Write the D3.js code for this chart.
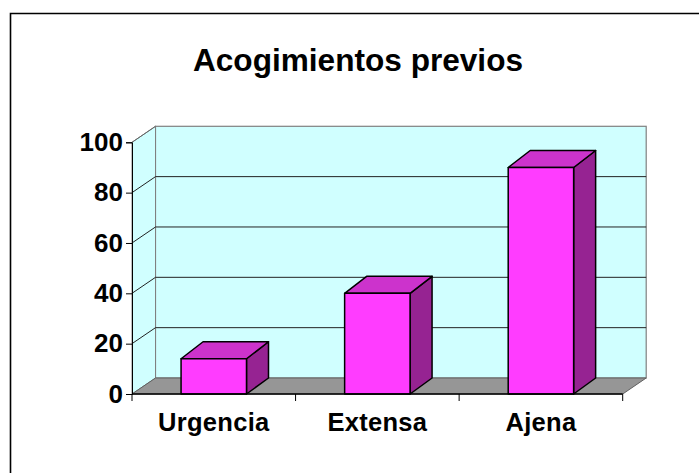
<!DOCTYPE html>
<html><head><meta charset="utf-8">
<script src="https://cdn.jsdelivr.net/npm/d3@7"></script>
<style>html,body{margin:0;padding:0;background:#fff}svg{display:block}text{font-family:"Liberation Sans",Arial,sans-serif;font-weight:bold;fill:#000}</style>
</head><body><svg id="c" width="699" height="473"></svg>
<script>
const categories = ["Urgencia", "Extensa", "Ajena"];
const values = [14, 40, 90];
const yTicks = [0, 20, 40, 60, 80, 100];
const title = "Acogimientos previos";

const svg = d3.select("#c");
const dx = 23.5, dy = -16;
const x = d3.scaleBand().domain(categories).range([132, 622.7]).paddingInner(0.6).paddingOuter(0.3);
const y = d3.scaleLinear().domain([0, 100]).range([394, 142.3]);
const pts = a => a.map(p => p.join(",")).join(" ");
const x0 = x.range()[0], x1 = x.range()[1], y0 = y(0), yT = y(100);

svg.append("path").attr("d", "M10.5,473V13.5H699").attr("fill", "none").attr("stroke", "#000").attr("stroke-width", 1.6);

svg.append("text").attr("x", 358).attr("y", 71).attr("text-anchor", "middle").attr("font-size", 31.6).text(title);

// walls
svg.append("rect").attr("x", x0 + dx).attr("y", yT + dy).attr("width", x1 - x0).attr("height", y0 - yT)
  .attr("fill", "#d0ffff").attr("stroke", "#808080").attr("stroke-width", 1.2);
svg.append("polygon").attr("points", pts([[x0, yT], [x0 + dx, yT + dy], [x0 + dx, y0 + dy], [x0, y0]]))
  .attr("fill", "#d0ffff").attr("stroke", "#808080").attr("stroke-width", 1);
svg.append("polygon").attr("points", pts([[x0, y0], [x0 + dx, y0 + dy], [x1 + dx, y0 + dy], [x1, y0]]))
  .attr("fill", "#969696").attr("stroke", "#606060").attr("stroke-width", 1);

// gridlines
const grid = svg.append("g").attr("stroke", "#222").attr("stroke-width", 1).attr("fill", "none");
yTicks.filter(t => t > 0 && t < 100).forEach(t => {
  grid.append("polyline").attr("points", pts([[x0, y(t)], [x0 + dx, y(t) + dy], [x1 + dx, y(t) + dy]]));
});
svg.append("line").attr("x1", x0).attr("y1", yT).attr("x2", x0 + dx).attr("y2", yT + dy).attr("stroke", "#666");

// bars
const bars = svg.append("g").attr("stroke", "#000").attr("stroke-width", 1.5).attr("stroke-linejoin", "round");
categories.forEach((c, i) => {
  const l = x(c), r = l + x.bandwidth(), t = y(values[i]);
  const bdx = 22, bdy = -17;
  bars.append("polygon").attr("points", pts([[r, t], [r + bdx, t + bdy], [r + bdx, y0 + dy], [r, y0]])).attr("fill", "#962392");
  bars.append("polygon").attr("points", pts([[l, t], [l + bdx, t + bdy], [r + bdx, t + bdy], [r, t]])).attr("fill", "#cc33cc");
  bars.append("rect").attr("x", l).attr("y", t).attr("width", r - l).attr("height", y0 - t).attr("fill", "#ff3cff");
});

// axes
const yAxis = d3.axisLeft(y).tickValues(yTicks).tickSize(6).tickPadding(3);
const gy = svg.append("g").attr("transform", `translate(${x0},0)`).call(yAxis);
gy.selectAll("text").attr("font-size", 26).style("font-family", '"Liberation Sans",Arial,sans-serif');

const xAxisG = svg.append("g").attr("stroke", "#000");
xAxisG.append("line").attr("x1", x0).attr("x2", x1).attr("y1", y0).attr("y2", y0).attr("stroke-width", 1.5);
const step = (x1 - x0) / categories.length;
d3.range(categories.length + 1).forEach(i => {
  xAxisG.append("line").attr("x1", x0 + i * step).attr("x2", x0 + i * step).attr("y1", y0).attr("y2", y0 + 7);
});
categories.forEach((c, i) => {
  svg.append("text").attr("x", x(c) + x.bandwidth() / 2).attr("y", 430.5).attr("text-anchor", "middle")
    .attr("font-size", 25.5).attr("letter-spacing", 0.3).text(c);
});
</script></body></html>
